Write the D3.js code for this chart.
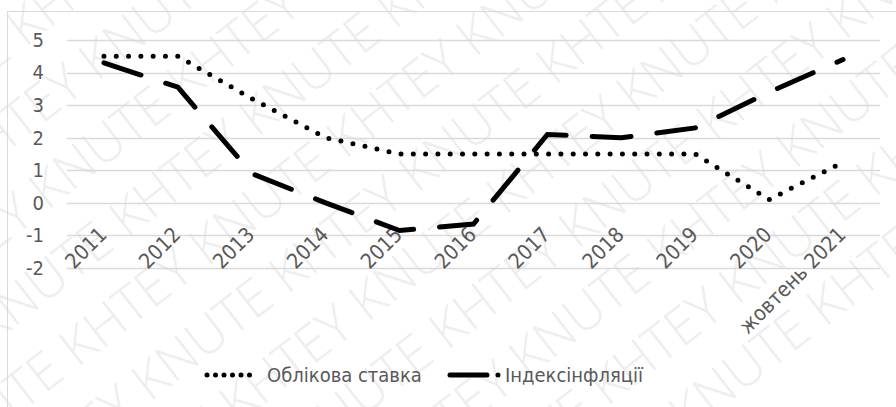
<!DOCTYPE html>
<html>
<head>
<meta charset="utf-8">
<script src="https://d3js.org/d3.v7.min.js"></script>
<style>
  body { margin: 0; background: #fff; }
  svg text { font-family: "DejaVu Sans Condensed", "DejaVu Sans", sans-serif; font-stretch: condensed; }
</style>
</head>
<body>
<div id="chart"></div>
<script>
// chart data
let years = ["2011", "2012", "2013", "2014", "2015", "2016", "2017", "2018", "2019", "2020", "жовтень 2021"];
let discountRate = [4.5, 4.5, 3.2, 2.0, 1.5, 1.5, 1.5, 1.5, 1.5, 0.1, 1.25];
let inflation = [4.3, 3.55, 0.9, 0.0, -0.85, -0.65, 2.1, 2.0, 2.3, 3.4, 4.4];
let yTicks = [-2, -1, 0, 1, 2, 3, 4, 5];
let seriesNames = ["Облікова ставка", "Індексінфляції"];

let width = 896, height = 407;
let plot = {left: 67, right: 880, top: 40, bottom: 268};

let svg = d3.select("#chart").append("svg")
    .attr("width", width)
    .attr("height", height);

// watermark behind everything
let wm = svg.append("g").attr("fill", "#eeeeee");
for (let r = -5; r < 9; r++) {
    wm.append("text")
        .attr("transform", `translate(${-220 + r * 80}, ${420 + r * 28}) rotate(-38)`)
        .attr("font-size", 52)
        .style("font-family", "'Open Sans', sans-serif")
        .style("font-stretch", "normal")
        .style("font-weight", 300)
        .text(r % 2 ? "KHTEY KNUTE KHTEY KNUTE KHTEY KNUTE" : "KNUTE KHTEY KNUTE KHTEY KNUTE KHTEY");
}

// chart area border
svg.append("rect")
    .attr("x", 7.5).attr("y", 11.5)
    .attr("width", 1000).attr("height", 1000)
    .attr("fill", "none")
    .attr("stroke", "#d9d9d9");

let x = d3.scaleBand().domain(years).range([plot.left, plot.right]);
let y = d3.scaleLinear().domain([-2, 5]).range([plot.bottom, plot.top]);
let cx = d => x(d) + x.bandwidth() / 2;

// gridlines
svg.append("g").selectAll("line").data(yTicks).join("line")
    .attr("x1", plot.left).attr("x2", plot.right)
    .attr("y1", d => Math.round(y(d)) + 0.5).attr("y2", d => Math.round(y(d)) + 0.5)
    .attr("stroke", "#d9d9d9").attr("stroke-width", 1.5);

// y labels
let yAxis = d3.axisLeft(y).tickValues(yTicks).tickSize(0).tickPadding(0)
    .tickFormat(d => String(d));
let ya = svg.append("g").attr("transform", `translate(44,0)`).call(yAxis);
ya.select(".domain").remove();
ya.selectAll("text").attr("font-size", 20).attr("fill", "#595959")
    .attr("font-family", null);

// x labels, rotated
svg.append("g").selectAll("text").data(years).join("text")
    .attr("transform", d => `translate(${cx(d) - 1}, 231) rotate(-45)`)
    .attr("text-anchor", "end")
    .attr("dominant-baseline", "central")
    .attr("font-size", 21)
    .attr("fill", "#595959")
    .text(d => d);

let line = d3.line().x((d, i) => cx(years[i])).y(d => y(d));

// discount rate - round dots
svg.append("path")
    .attr("d", line(discountRate))
    .attr("fill", "none").attr("stroke", "#000")
    .attr("stroke-width", 5).attr("stroke-linecap", "round")
    .attr("stroke-dasharray", "0 12.3");

// inflation - long dash
svg.append("path")
    .attr("d", line(inflation))
    .attr("fill", "none").attr("stroke", "#000")
    .attr("stroke-width", 5).attr("stroke-linecap", "round")
    .attr("stroke-dasharray", "39 26");

// legend
let ly = 375;
svg.append("line")
    .attr("x1", 207).attr("x2", 258).attr("y1", ly).attr("y2", ly)
    .attr("stroke", "#000").attr("stroke-width", 5).attr("stroke-linecap", "round")
    .attr("stroke-dasharray", "0 8.5");
svg.append("text").attr("x", 267).attr("y", ly).attr("dominant-baseline", "central")
    .attr("font-size", 20).attr("fill", "#595959").text(seriesNames[0]);
svg.append("line")
    .attr("x1", 450).attr("x2", 502).attr("y1", ly).attr("y2", ly)
    .attr("stroke", "#000").attr("stroke-width", 5).attr("stroke-linecap", "round")
    .attr("stroke-dasharray", "37 11 0 100");
svg.append("text").attr("x", 505).attr("y", ly).attr("dominant-baseline", "central")
    .attr("font-size", 20).attr("fill", "#595959").text(seriesNames[1]);
</script>
</body>
</html>
